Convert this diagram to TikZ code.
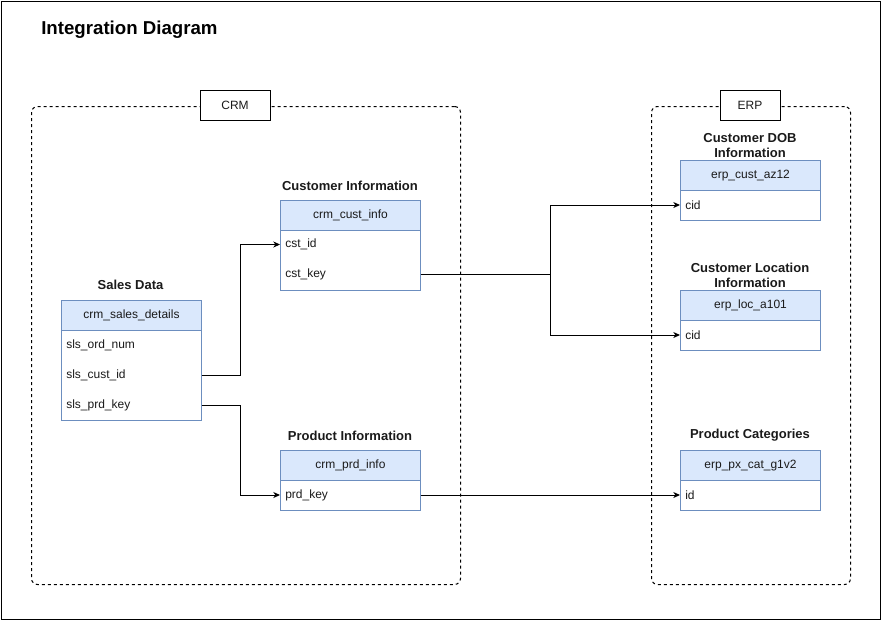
\documentclass[tikz,border=0pt]{standalone}
\usepackage{fontspec}
\setmainfont{Liberation Sans}
\usetikzlibrary{arrows.meta}
\definecolor{hdrfill}{HTML}{DAE8FC}
\definecolor{hdrline}{HTML}{6C8EBF}
\definecolor{txt}{HTML}{1A1A1A}
\begin{document}
\begin{tikzpicture}[x=0.75pt,y=-0.75pt,
  frame/.style={draw=black, line width=0.75pt},
  group/.style={draw=black, line width=0.75pt, dash pattern=on 2.25pt off 2.25pt, rounded corners=4.5pt},
  grplabel/.style={draw=black, fill=white, line width=0.75pt, minimum width=52.5pt, minimum height=22.5pt, inner sep=0pt, font=\fontsize{9}{11}\selectfont, text=txt},
  thead/.style={draw=hdrline, fill=hdrfill, line width=0.75pt, minimum width=105pt, minimum height=22.5pt, inner sep=0pt, anchor=north west, font=\fontsize{9}{11}\selectfont, text=txt},
  tbody/.style={draw=hdrline, fill=white, line width=0.75pt, minimum width=105pt, inner sep=0pt, anchor=north west},
  row/.style={anchor=west, minimum height=22.5pt, inner xsep=3.75pt, inner ysep=0pt, text width=97.5pt, align=left, font=\fontsize{9}{11}\selectfont, text=txt},
  ttl/.style={font=\bfseries\fontsize{9.75}{11.5}\selectfont, text=txt, align=center, inner sep=0pt},
  conn/.style={draw=black, line width=0.75pt, -{Stealth[length=5pt,width=4.5pt,inset=1.5pt]}},
  link/.style={draw=black, line width=0.75pt}
]
\useasboundingbox (0,0) rectangle (882,621);
\node[frame, minimum width=659.25pt, minimum height=463.5pt, anchor=north west, inner sep=0pt] (outer) at (1,1) {};

\node[anchor=west, inner sep=0pt, font=\bfseries\fontsize{14}{16}\selectfont] (title) at (41,30) {Integration Diagram};

% containers
\node[group, minimum width=321.75pt, minimum height=358.5pt, anchor=north west, inner sep=0pt] (crm) at (31,106) {};
\node[grplabel] (crmlbl) at (235,105) {CRM};
\node[group, minimum width=149.25pt, minimum height=358.5pt, anchor=north west, inner sep=0pt] (erp) at (651,106) {};
\node[grplabel, minimum width=45pt] (erplbl) at (750,105) {ERP};

% Sales Data
\node[ttl] (sdt) at (130.5,285) {Sales Data};
\node[tbody, minimum height=67.5pt] (sdb) at (61,330) {};
\node[thead] (sdh) at (61,300) {crm\_sales\_details};
\node[row] (sd1) at (61,345.5) {sls\_ord\_num};
\node[row] (sd2) at (61,375.5) {sls\_cust\_id};
\node[row] (sd3) at (61,405.5) {sls\_prd\_key};

% Customer Information
\node[ttl] (cit) at (350,185.5) {Customer Information};
\node[tbody, minimum height=45pt] (cib) at (280,230) {};
\node[thead] (cih) at (280,200) {crm\_cust\_info};
\node[row] (ci1) at (280,244.5) {cst\_id};
\node[row] (ci2) at (280,274.5) {cst\_key};

% Product Information
\node[ttl] (pit) at (350,435.5) {Product Information};
\node[tbody, minimum height=22.5pt] (pib) at (280,480) {};
\node[thead] (pih) at (280,450) {crm\_prd\_info};
\node[row] (pi1) at (280,495) {prd\_key};

% Customer DOB Information
\node[ttl] (cdt) at (750,145.5) {Customer DOB\\Information};
\node[tbody, minimum height=22.5pt] (cdb) at (680,190) {};
\node[thead] (cdh) at (680,160) {erp\_cust\_az12};
\node[row] (cd1) at (680,205) {cid};

% Customer Location Information
\node[ttl] (clt) at (750,275.5) {Customer Location\\Information};
\node[tbody, minimum height=22.5pt] (clb) at (680,320) {};
\node[thead] (clh) at (680,290) {erp\_loc\_a101};
\node[row] (cl1) at (680,335) {cid};

% Product Categories
\node[ttl] (pct) at (750,435.5) {Product Categories};
\node[tbody, minimum height=22.5pt] (pcb) at (680,480) {};
\node[thead] (pch) at (680,450) {erp\_px\_cat\_g1v2};
\node[row] (pc1) at (680,495) {id};

% connectors
\coordinate (j1) at (240,375.5);
\coordinate (j2) at (240,405.5);
\coordinate (j3) at (550,274.5);
\draw[conn] (sd2.east) -- (j1) |- (ci1.west);
\draw[conn] (sd3.east) -- (j2) |- (pi1.west);
\draw[link] (ci2.east) -- (j3);
\draw[conn] (j3) |- (cd1.west);
\draw[conn] (j3) |- (cl1.west);
\draw[conn] (pi1.east) -- (pc1.west);
\end{tikzpicture}
\end{document}
